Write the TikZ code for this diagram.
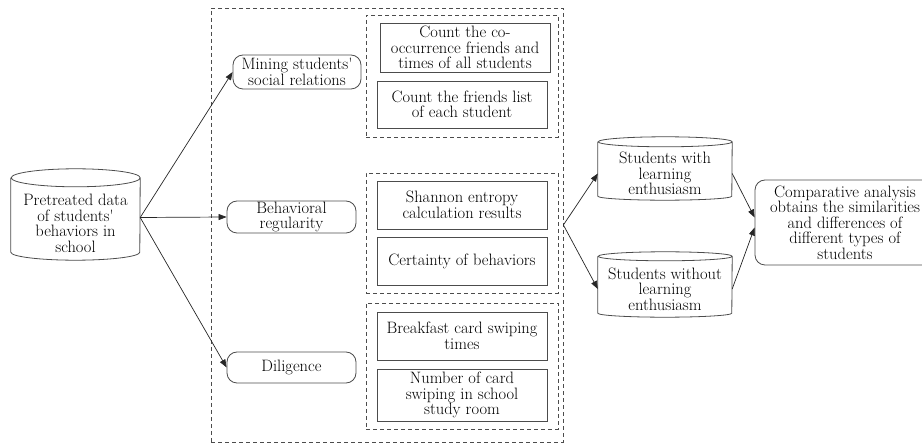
\documentclass[tikz,border=0pt]{standalone}
\usetikzlibrary{arrows.meta}
\begin{document}
\begin{tikzpicture}[x=1pt,y=-1pt,
  every node/.style={font=\fontsize{16.5}{15.5}\selectfont, align=center, inner sep=0pt},
  box/.style={draw=black!70, line width=0.8pt, minimum width=170pt},
  rbox/.style={draw=black!70, line width=0.8pt, rounded corners=10pt},
  dbox/.style={draw=black!70, line width=0.8pt, dash pattern=on 4pt off 3pt},
  arr/.style={draw=black!85, line width=0.7pt, -{Triangle[length=8pt,width=6pt]}},
  cylline/.style={draw=black!70, line width=0.8pt}]
\useasboundingbox (0,0) rectangle (922,443);

% dashed groups
\node[dbox, minimum width=352pt, minimum height=434pt] (outer) at (387,225) {};
\node[dbox, minimum width=192pt, minimum height=122pt] (g1) at (462,76) {};
\node[dbox, minimum width=192pt, minimum height=120pt] (g2) at (462,233) {};
\node[dbox, minimum width=192pt, minimum height=126pt] (g3) at (462,366) {};

% inner boxes
\node[box, minimum height=49pt] (a1) at (465,47.5) {Count the co-\\occurrence friends and\\times of all students};
\node[box, minimum height=47pt] (a2) at (462,104.5) {Count the friends list\\of each student};
\node[box, minimum height=48pt] (b1) at (462,205) {Shannon entropy\\calculation results};
\node[box, minimum height=48pt] (b2) at (462,261) {Certainty of behaviors};
\node[box, minimum height=48pt] (c1) at (462,336) {Breakfast card swiping\\times};
\node[box, minimum height=52pt] (c2) at (462,395) {Number of card\\swiping in school\\study room};

% rounded category nodes
\node[rbox, minimum width=128pt, minimum height=34pt] (mine) at (297,72) {Mining students\textquotesingle\\social relations};
\node[rbox, minimum width=129pt, minimum height=32pt] (beh) at (291.5,217) {Behavioral\\regularity};
\node[rbox, minimum width=129pt, minimum height=31pt] (dil) at (291.5,367.5) {Diligence};

% comparative
\node[rbox, minimum width=180pt, minimum height=85pt] (comp) at (845,222.5) {Comparative analysis\\obtains the similarities\\and differences of\\different types of\\students};

% cylinders
\node[minimum width=129pt, minimum height=73pt] (src) at (75.5,223.5) {Pretreated data\\of students\textquotesingle\\behaviors in\\school};
\draw[cylline] ([yshift=9pt]src.north west) -- ([yshift=8pt]src.south west)
  arc[start angle=180,end angle=360,x radius=64.5pt,y radius=8pt]
  -- ([yshift=9pt]src.north east)
  arc[start angle=0,end angle=360,x radius=64.5pt,y radius=9pt];

\node[minimum width=134pt, minimum height=53pt] (with) at (665,173.5) {Students with\\learning\\enthusiasm};
\draw[cylline] ([yshift=5pt]with.north west) -- ([yshift=4pt]with.south west)
  arc[start angle=180,end angle=360,x radius=67pt,y radius=4pt]
  -- ([yshift=5pt]with.north east)
  arc[start angle=0,end angle=360,x radius=67pt,y radius=5pt];

\node[minimum width=134pt, minimum height=56pt] (without) at (665,289) {Students without\\learning\\enthusiasm};
\draw[cylline] ([yshift=4.5pt]without.north west) -- ([yshift=4pt]without.south west)
  arc[start angle=180,end angle=360,x radius=67pt,y radius=4pt]
  -- ([yshift=4.5pt]without.north east)
  arc[start angle=0,end angle=360,x radius=67pt,y radius=4.5pt];

% connectors
\draw[arr] ([yshift=6pt]src.east) -- (mine.west);
\draw[arr] ([yshift=6pt]src.east) -- (beh.west);
\draw[arr] ([yshift=6pt]src.east) -- (dil.west);
\draw[arr] (outer.east) -- (with.west);
\draw[arr] (outer.east) -- (without.west);
\draw[arr] (with.east) -- ([yshift=5pt]comp.west);
\draw[arr] (without.east) -- ([yshift=-5pt]comp.west);
\end{tikzpicture}
\end{document}
